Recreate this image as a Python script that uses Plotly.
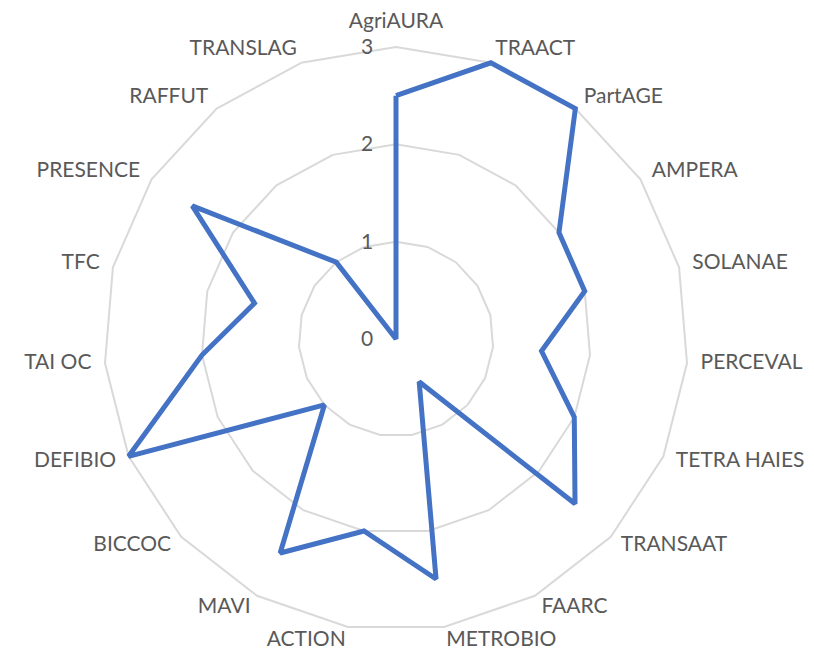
import plotly.graph_objects as go

categories = ["AgriAURA", "TRAACT", "PartAGE", "AMPERA", "SOLANAE", "PERCEVAL",
              "TETRA HAIES", "TRANSAAT", "FAARC", "METROBIO", "ACTION", "MAVI",
              "BICCOC", "DEFIBIO", "TAI OC", "TFC", "PRESENCE", "RAFFUT", "TRANSLAG"]
values = [2.5, 3, 3, 2, 2, 1.5, 2, 2.5, 0.5, 2.5, 2, 2.5, 1, 3, 2, 1.5, 2.5, 1, 0]
radial_ticks = [0, 1, 2, 3]
r_max = 3
label_r = 3.14

W, H = 814, 652
cx, cy = 388, 331
R = 292 * label_r / r_max

n = len(categories)


def label_position(i):
    a = i * 360.0 / n
    if a == 0:
        return "top center"
    if a < 180:
        return "middle right"
    return "middle left"


FONT = "Lato, 'Liberation Sans', sans-serif"

fig = go.Figure()
fig.add_trace(go.Scatterpolar(
    r=values + values[:1],
    theta=categories + categories[:1],
    mode="lines",
    line=dict(color="#4472C4", width=5),
    hoverinfo="skip",
    showlegend=False,
))
# category labels placed just outside the outer ring through the polar scales
fig.add_trace(go.Scatterpolar(
    r=[label_r] * n,
    theta=categories,
    mode="text",
    text=categories,
    textposition=[label_position(i) for i in range(n)],
    textfont=dict(family=FONT, size=21, color="#595959"),
    cliponaxis=False,
    hoverinfo="skip",
    showlegend=False,
))

fig.update_layout(
    width=W, height=H,
    margin=dict(l=0, r=0, t=0, b=0),
    paper_bgcolor="white",
    font=dict(family=FONT, size=21, color="#595959"),
    polar=dict(
        domain=dict(x=[(cx - R) / W, (cx + R) / W], y=[(H - cy - R) / H, (H - cy + R) / H]),
        bgcolor="white",
        gridshape="linear",
        radialaxis=dict(
            range=[0, label_r], tickvals=radial_ticks, ticktext=[str(v) for v in radial_ticks],
            angle=90, tickangle=90, side="counterclockwise",
            showline=False, ticks="outside", ticklen=15, tickcolor="rgba(0,0,0,0)",
            gridcolor="#d9d9d9", gridwidth=1.5,
            tickfont=dict(family=FONT, size=21, color="#595959"),
        ),
        angularaxis=dict(
            rotation=90, direction="clockwise",
            showgrid=False, showline=False,
            ticks="", showticklabels=False,
        ),
    ),
)

fig.write_html("out.html")
